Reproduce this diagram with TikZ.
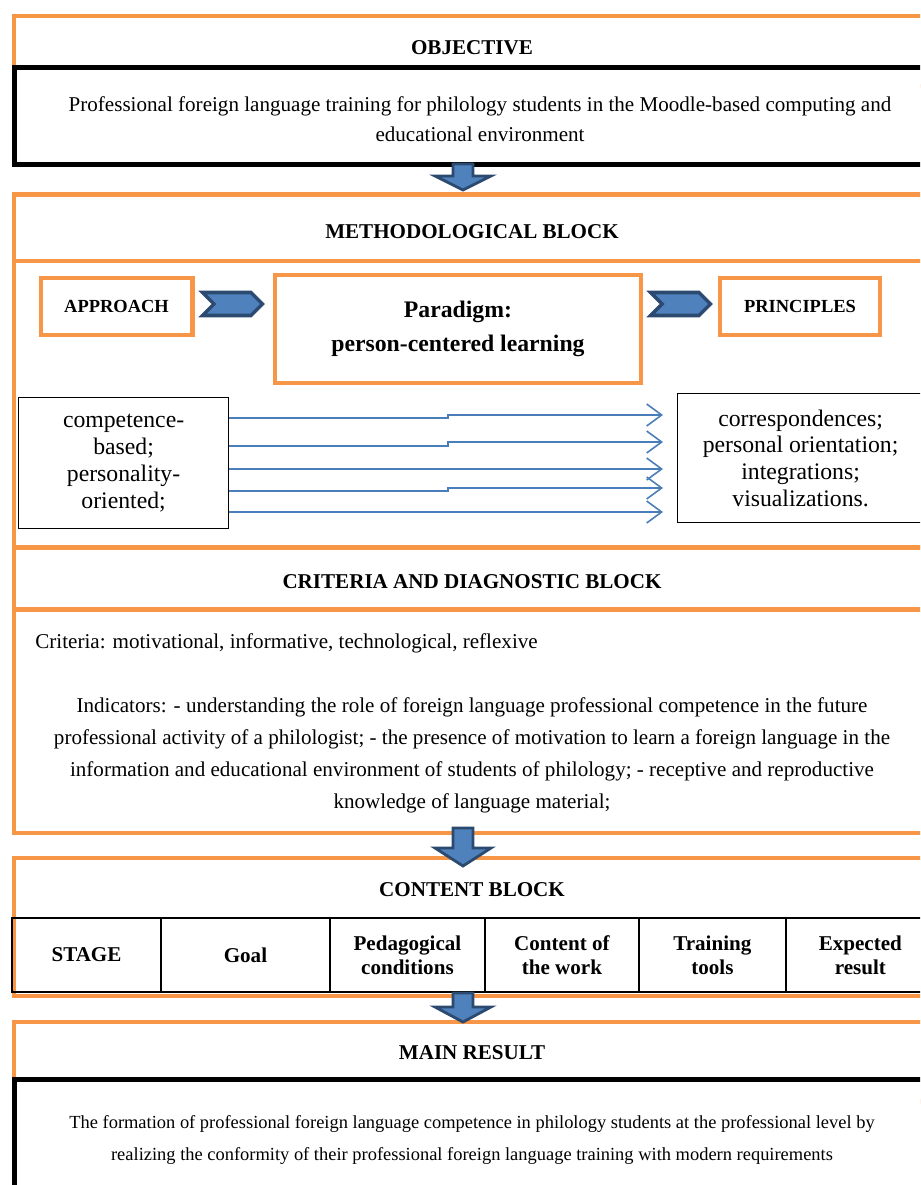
\documentclass[tikz,border=0pt]{standalone}
\usepackage{fontspec}
\setmainfont{Liberation Serif}
\usetikzlibrary{shapes.symbols, arrows.meta, positioning}
\definecolor{frameOrange}{HTML}{F79646}
\definecolor{blockNavy}{HTML}{2C4A70}
\definecolor{blockBlue}{HTML}{4F81BD}
\definecolor{lineBlue}{HTML}{4A7EBB}

% block arrow pointing down: x, top, neck, tip
\newcommand{\downblock}[4]{%
  \draw[blkarrow] (#1-10,#2) -- (#1+10,#2) -- (#1+10,#3) -- (#1+28,#3) -- (#1,#4) -- (#1-28,#3) -- (#1-10,#3) -- cycle;}

\begin{document}
\begin{tikzpicture}[
    x=0.02cm, y=-0.02cm,
    frame/.style={draw=frameOrange, line width=2.3pt, fill=white, anchor=north west, inner sep=0pt},
    darkbox/.style={draw=black, line width=2.8pt, fill=white, anchor=north west, inner sep=0pt},
    head/.style={font=\fontsize{12}{14}\selectfont\bfseries},
    body/.style={font=\fontsize{12}{17}\selectfont, align=center},
    tagbox/.style={draw=frameOrange, line width=2.3pt, fill=white, align=center, font=\fontsize{10.5}{12}\selectfont\bfseries, anchor=north west, inner sep=0pt},
    listbox/.style={draw=black, line width=0.7pt, fill=white, anchor=north west, align=center, font=\fontsize{13.5}{15.2}\selectfont, inner sep=0pt},
    chevron/.style={signal, signal from=west, signal to=east, draw=blockNavy, fill=blockBlue, line width=2pt, minimum width=1.2cm, minimum height=0.46cm, inner sep=0pt},
    thinarrow/.style={draw=lineBlue, line width=0.9pt, -{Straight Barb[length=0.3cm, width=0.44cm]}, shorten >=0.28cm},
    blkarrow/.style={draw=blockNavy, fill=blockBlue, line width=1.6pt, line join=miter},
    cell/.style={draw=black, line width=0.9pt, outer sep=0pt, anchor=north west, align=center, font=\fontsize{12}{13.6}\selectfont\bfseries, inner sep=0pt, minimum height=1.48cm}
]
    \clip (0,0) rectangle (920,1185);

    % Objective
    \node[frame, minimum width=18.4cm, minimum height=1.4cm] (objframe) at (11.5,14) {};
    \node[head] (objtitle) at (472,48) {OBJECTIVE};
    \node[darkbox, minimum width=18.4cm, minimum height=1.94cm] (objbox) at (12,65) {};
    \node[body] (objtext) at (480,119) {Professional foreign language training for philology students in the Moodle-based computing and\\educational environment};

    % Methodological block
    \node[frame, minimum width=18.4cm, minimum height=7.06cm] (methframe) at (11.5,192.5) {};
    \draw[draw=frameOrange, line width=2.3pt] (11.5,261) -- (932,261);
    \node[head] (methtitle) at (472,232) {METHODOLOGICAL BLOCK};

    \node[tagbox, minimum width=3.04cm, minimum height=1.14cm] (approach) at (38.5,276) {APPROACH};
    \node[tagbox, minimum width=7.32cm, minimum height=2.16cm, font=\fontsize{13.5}{19}\selectfont\bfseries] (paradigm) at (273,273) {Paradigm:\\person-centered learning};
    \node[tagbox, minimum width=3.2cm, minimum height=1.14cm] (principles) at (718,276) {PRINCIPLES};
    \node[chevron] (chevA) at (232.5,304) {};
    \node[chevron] (chevB) at (680.5,304) {};

    \node[listbox, minimum width=4.2cm, minimum height=2.62cm] (lbox) at (18,397) {competence-\\based;\\personality-\\oriented;};
    \node[listbox, minimum width=4.92cm, minimum height=2.58cm] (rbox) at (677,393) {correspondences;\\personal orientation;\\integrations;\\visualizations.};

    \draw[thinarrow] (lbox.east |- 0,418) -- (448,418) -- (448,415) -- (rbox.west |- 0,415);
    \draw[thinarrow] (lbox.east |- 0,446) -- (448,446) -- (448,442) -- (rbox.west |- 0,442);
    \draw[thinarrow] (lbox.east |- 0,469) -- (rbox.west |- 0,469);
    \draw[thinarrow] (lbox.east |- 0,491) -- (448,491) -- (448,488) -- (rbox.west |- 0,488);
    \draw[thinarrow] (lbox.east |- 0,512) -- (rbox.west |- 0,512);

    % Criteria and diagnostic block
    \node[frame, minimum width=18.4cm, minimum height=5.71cm] (critframe) at (11.5,545.5) {};
    \draw[draw=frameOrange, line width=2.3pt] (11.5,609.5) -- (932,609.5);
    \node[head] (crittitle) at (472,582) {CRITERIA AND DIAGNOSTIC BLOCK};
    \node[anchor=west, inner sep=0pt, font=\fontsize{12}{17}\selectfont] (crittext) at (35,643) {Criteria: motivational, informative, technological, reflexive};
    \node[body, font=\fontsize{12}{18.2}\selectfont] (indtext) at (472,755) {Indicators: - understanding the role of foreign language professional competence in the future\\professional activity of a philologist; - the presence of motivation to learn a foreign language in the\\information and educational environment of students of philology; - receptive and reproductive\\knowledge of language material;};

    % Content block
    \node[frame, minimum width=18.4cm, minimum height=2.77cm] (contframe) at (11.5,855.5) {};
    \node[head] (conttitle) at (472,890) {CONTENT BLOCK};
    \node[cell, minimum width=2.98cm] (stage) at (12,918) {STAGE};
    \node[cell, minimum width=3.38cm, right=0pt of stage] (goal) {Goal};
    \node[cell, minimum width=3.1cm, right=0pt of goal] (cond) {Pedagogical\\conditions};
    \node[cell, minimum width=3.08cm, right=0pt of cond] (work) {Content of\\the work};
    \node[cell, minimum width=2.94cm, right=0pt of work] (tools) {Training\\tools};
    \node[cell, minimum width=2.98cm, right=0pt of tools] (expect) {Expected\\result};

    % Main result
    \node[frame, minimum width=18.4cm, minimum height=1.6cm] (resframe) at (11.5,1019.5) {};
    \node[head] (restitle) at (472,1053) {MAIN RESULT};
    \node[darkbox, minimum width=18.4cm, minimum height=2.8cm] (resbox) at (12,1077) {};
    \node[body, font=\fontsize{10.5}{18.5}\selectfont] (restext) at (472,1140) {The formation of professional foreign language competence in philology students at the professional level by\\realizing the conformity of their professional foreign language training with modern requirements};

    % Arrows between blocks
    \downblock{463}{164}{176}{190}
    \downblock{463}{828}{848}{866}
    \downblock{463}{993}{1007}{1022}
\end{tikzpicture}
\end{document}
